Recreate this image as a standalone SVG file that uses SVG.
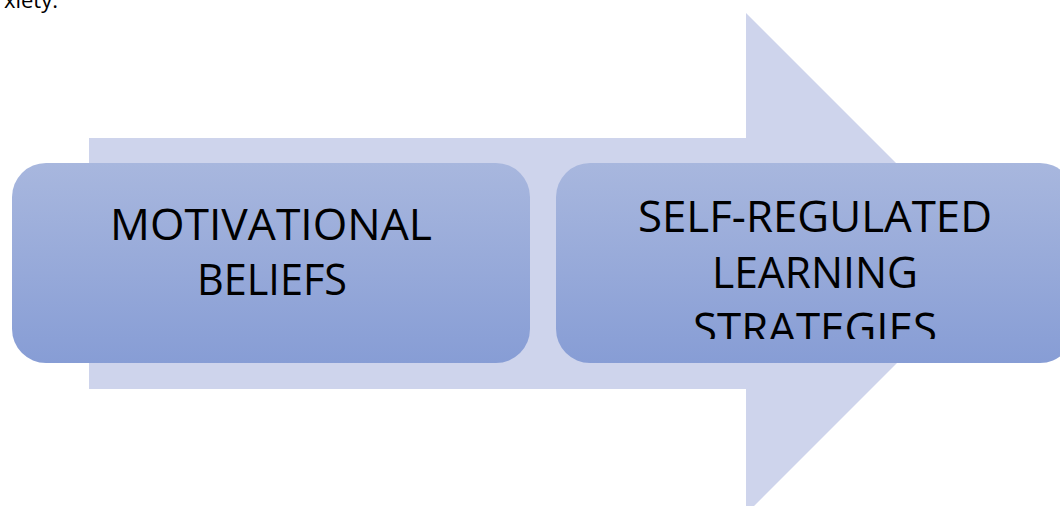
<svg xmlns="http://www.w3.org/2000/svg" width="1060" height="506" viewBox="0 0 1060 506">
<defs>
<linearGradient id="boxGrad" x1="0" y1="0" x2="0" y2="1">
<stop offset="0" stop-color="#a8b7de"/>
<stop offset="1" stop-color="#879dd5"/>
</linearGradient>
<clipPath id="rightClip"><rect x="556" y="163" width="518" height="176"/></clipPath>
</defs>
<style>
.box{fill:url(#boxGrad);}
.lbl{font-family:"Open Sans","Liberation Sans",sans-serif;font-size:44px;fill:#000;text-anchor:middle;}
.note{font-family:"Open Sans","Liberation Sans",sans-serif;font-size:22px;fill:#000;text-anchor:end;}
</style>
<rect width="1060" height="506" fill="#ffffff"/>
<text class="note" x="58" y="8">xiety.</text>
<g id="connectors">
<polygon points="89,138 746,138 746,13 996.5,263.5 746,514 746,389 89,389" fill="#ced4ec"/>
</g>
<g id="node-motivational">
<rect class="box" x="12" y="163" width="518" height="200" rx="34" ry="34"/>
<text class="lbl" x="271" y="240" textLength="322" lengthAdjust="spacingAndGlyphs">MOTIVATIONAL</text>
<text class="lbl" x="272" y="295" textLength="150" lengthAdjust="spacingAndGlyphs">BELIEFS</text>
</g>
<g id="node-srl">
<rect class="box" x="556" y="163" width="518" height="200" rx="34" ry="34"/>
<g clip-path="url(#rightClip)">
<text class="lbl" x="815" y="232" textLength="354" lengthAdjust="spacingAndGlyphs">SELF-REGULATED</text>
<text class="lbl" x="815" y="288" textLength="206" lengthAdjust="spacingAndGlyphs">LEARNING</text>
<text class="lbl" x="815" y="344" textLength="244" lengthAdjust="spacingAndGlyphs">STRATEGIES</text>
</g>
</g>
</svg>
